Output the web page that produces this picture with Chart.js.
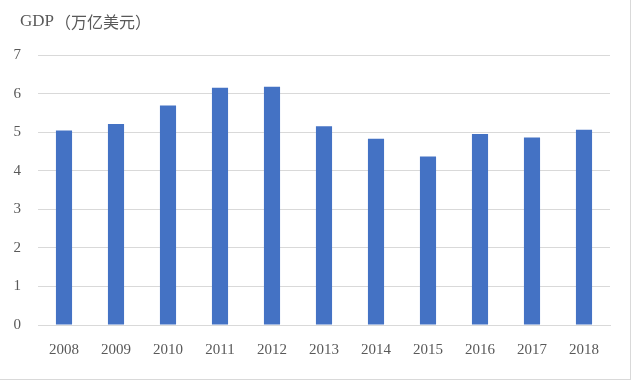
<!DOCTYPE html>
<html>
<head>
<meta charset="utf-8">
<script src="https://cdn.jsdelivr.net/npm/chart.js@4/dist/chart.umd.min.js"></script>
<style>
  html, body { margin: 0; padding: 0; background: #fff; }
  #wrap { position: relative; width: 630px; height: 379px; border-right: 1px solid #d9d9d9; border-bottom: 1px solid #d9d9d9; box-sizing: content-box; }
  #c { position: absolute; left: 0; top: 0; }
</style>
</head>
<body>
<div id="wrap"><canvas id="c" width="632" height="383"></canvas></div>
<script>
const titleText = "GDP（万亿美元）";
const years = ["2008","2009","2010","2011","2012","2013","2014","2015","2016","2017","2018"];
const gdp = [5.04, 5.21, 5.69, 6.15, 6.18, 5.15, 4.83, 4.37, 4.95, 4.86, 5.06];
const yTicks = [0, 1, 2, 3, 4, 5, 6, 7];

const textColor = "#595959";
const serif = "'Liberation Serif', 'Times New Roman', 'Noto Sans CJK SC', serif";

const titlePlugin = {
  id: "cornerTitle",
  afterDraw(chart) {
    const ctx = chart.ctx;
    ctx.save();
    ctx.fillStyle = textColor;
    ctx.textBaseline = "middle";
    ctx.textAlign = "left";
    ctx.font = "17px " + serif;
    const part1 = "GDP";
    ctx.fillText(part1, 20, 22);
    const w = ctx.measureText(part1).width;
    ctx.font = "16px 'Noto Sans CJK SC', sans-serif";
    ctx.fillText(titleText.slice(3), 20 + w + 1, 22);
    ctx.restore();
  }
};

new Chart(document.getElementById("c"), {
  type: "bar",
  data: {
    labels: years,
    datasets: [{
      data: gdp,
      backgroundColor: "#4472C4",
      borderWidth: 0,
      barPercentage: 0.31,
      categoryPercentage: 1.0
    }]
  },
  options: {
    responsive: false,
    animation: false,
    devicePixelRatio: 1,
    layout: { padding: { left: 13, right: 22, top: 55, bottom: 8 } },
    plugins: { legend: { display: false }, tooltip: { enabled: false }, title: { display: false } },
    scales: {
      x: {
        grid: { display: false, drawTicks: false },
        border: { display: true, color: "#d9d9d9", width: 1 },
        ticks: { color: textColor, font: { family: serif, size: 15 }, padding: 16, maxRotation: 0 }
      },
      y: {
        min: 0, max: 7,
        afterBuildTicks(axis) { axis.ticks = yTicks.map(v => ({ value: v })); },
        afterFit(axis) { axis.width = 25; },
        grid: { color: "#d9d9d9", drawTicks: false, lineWidth: 1 },
        border: { display: false },
        ticks: { color: textColor, font: { family: serif, size: 15 }, padding: 17 }
      }
    }
  },
  plugins: [titlePlugin]
});
</script>
</body>
</html>
